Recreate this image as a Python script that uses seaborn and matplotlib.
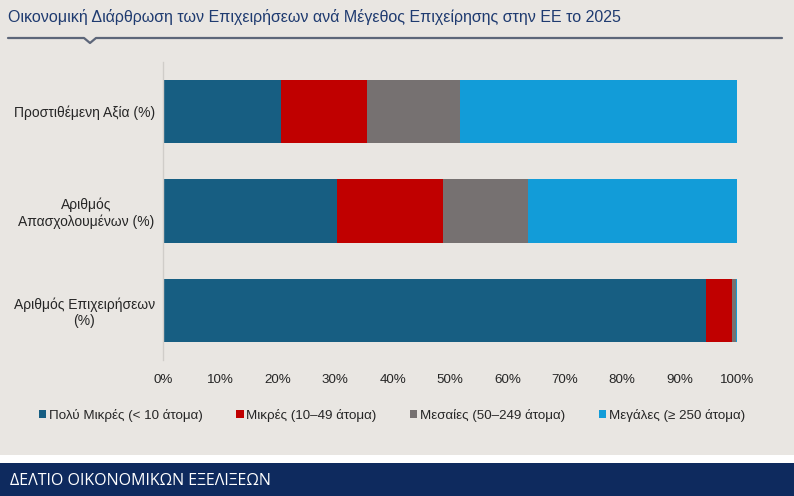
import matplotlib
matplotlib.use("Agg")
import matplotlib.pyplot as plt
import numpy as np
import pandas as pd
import seaborn as sns

# -------------------- Data --------------------
categories = ["Προστιθέμενη Αξία (%)",
              "Αριθμός\nΑπασχολουμένων (%)",
              "Αριθμός Επιχειρήσεων\n(%)"]
series_names = ["Πολύ Μικρές (< 10 άτομα)",
                "Μικρές (10–49 άτομα)",
                "Μεσαίες (50–249 άτομα)",
                "Μεγάλες (≥ 250 άτομα)"]
very_small = [20.6, 30.4, 94.6]
small = [14.9, 18.3, 4.5]
medium = [16.2, 14.9, 0.7]
large = [48.3, 36.4, 0.2]
tick_values = [0, 10, 20, 30, 40, 50, 60, 70, 80, 90, 100]

colors = ["#175E82", "#C00000", "#767171", "#129CD8"]
bg = "#E9E6E2"
font = ["Liberation Sans", "DejaVu Sans"]

sns.set_theme(style="white")
plt.rcParams["font.family"] = font

df = pd.DataFrame({"cat": categories,
                   series_names[0]: very_small,
                   series_names[1]: small,
                   series_names[2]: medium,
                   series_names[3]: large})
cum = df[series_names].cumsum(axis=1)

fig = plt.figure(figsize=(7.94, 4.96), dpi=100)
fig.patch.set_facecolor(bg)
ax = fig.add_axes([163 / 794, 1 - 360 / 496, 574 / 794, 298 / 496])
ax.set_facecolor(bg)

# stacked bars: draw cumulative totals from the back to the front
for name, col in reversed(list(zip(series_names, colors))):
    sns.barplot(x=cum[name], y=df["cat"], orient="h", color=col,
                width=0.64, saturation=1, ax=ax, label=name,
                edgecolor="none")

ax.set_xlim(0, 100)
ax.set_ylim(2.5, -0.5)
ax.set_xticks(tick_values)
ax.set_xticklabels([f"{v}%" for v in tick_values], fontsize=9.6,
                   color="#262626")
ax.set_xlabel("")
ax.set_ylabel("")
for lab in ax.get_yticklabels():
    lab.set_multialignment("center")
    lab.set_fontsize(10)
    lab.set_color("#262626")
ax.tick_params(axis="x", length=0, pad=10)
ax.tick_params(axis="y", length=0, pad=6)
for s in ["top", "right", "bottom"]:
    ax.spines[s].set_visible(False)
ax.spines["left"].set_color("#D0CDC9")
ax.spines["left"].set_linewidth(1)

# legend
handles, labels = ax.get_legend_handles_labels()
order = [labels.index(n) for n in series_names]
leg = fig.legend([handles[i] for i in order], [labels[i] for i in order],
                 loc="center", bbox_to_anchor=(392 / 794, 1 - 415 / 496),
                 ncol=4, frameon=False, handlelength=0.55, handleheight=0.55,
                 handletextpad=0.2, columnspacing=2.5,
                 prop={"family": font, "size": 9.6})
for t in leg.get_texts():
    t.set_color("#262626")
if ax.get_legend() is not None:
    ax.get_legend().remove()

# title and decoration line with notch
fig.text(8 / 794, 1 - 17 / 496,
         "Οικονομική Διάρθρωση των Επιχειρήσεων ανά Μέγεθος Επιχείρησης στην ΕΕ το 2025",
         fontsize=11.5, color="#1F3B70", va="center", ha="left")
lx = np.array([8, 84, 90, 96, 782]) / 794
ly = 1 - np.array([38, 38, 43, 38, 38]) / 496
fig.add_artist(plt.Line2D(lx, ly, color="#5D6679", lw=1.6,
                          transform=fig.transFigure))

# white gap and footer band
fig.add_artist(plt.Rectangle((0, 0), 1, 41 / 496, transform=fig.transFigure,
                             facecolor="white", edgecolor="none"))
fig.add_artist(plt.Rectangle((0, 0), 1, 33 / 496, transform=fig.transFigure,
                             facecolor="#0E2A5E", edgecolor="none"))
fig.text(10 / 794, 1 - 481 / 496, "ΔΕΛΤΙΟ ΟΙΚΟΝΟΜΙΚΩΝ ΕΞΕΛΙΞΕΩΝ",
         fontfamily=["Open Sans", "DejaVu Sans"], fontsize=11.5,
         color="white", va="center", ha="left")

fig.savefig("out.png", dpi=100, facecolor=fig.get_facecolor())
